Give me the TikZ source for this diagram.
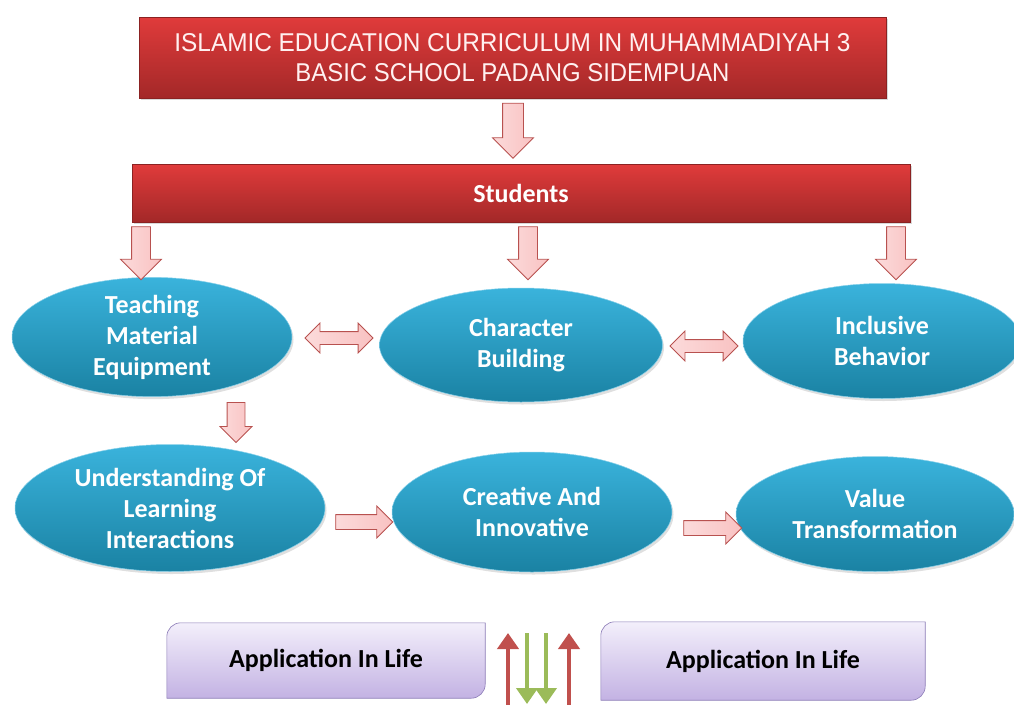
\documentclass[tikz,border=0pt]{standalone}
\usepackage{graphicx}
\usepackage{fontspec}
\setmainfont{Carlito}
\newfontfamily\titlefont{Liberation Sans}
\usetikzlibrary{shapes.geometric,shapes.arrows,shadows,calc,backgrounds,arrows.meta}
\definecolor{redtop}{HTML}{E03B3B}
\definecolor{redbot}{HTML}{A32828}
\definecolor{tealtop}{HTML}{3AB3DC}
\definecolor{tealbot}{HTML}{1A82A3}
\definecolor{arrfill}{HTML}{F9C2C2}
\definecolor{arrline}{HTML}{B8514F}
\definecolor{lavtop}{HTML}{F3EFFB}
\definecolor{lavbot}{HTML}{C3B2E3}
\definecolor{lavline}{HTML}{8A7AB6}
\definecolor{upred}{HTML}{C0504D}
\definecolor{downgreen}{HTML}{9BBB59}
\tikzset{
  redbox/.style={rectangle, draw=redbot!85!black, line width=0.4pt, top color=redtop, bottom color=redbot, inner sep=0pt,
    drop shadow={opacity=0.3, shadow xshift=2pt, shadow yshift=-2pt}},
  oval/.style={ellipse, top color=tealtop, bottom color=tealbot, draw=tealtop!60!white, line width=0.5pt, inner sep=0pt,
    text=white, font=\bfseries\fontsize{26}{31}\selectfont, align=center,
    drop shadow={opacity=0.25, shadow xshift=1.5pt, shadow yshift=-2.5pt}},
  blockarr/.style={draw=arrline, line width=0.8pt, left color=arrfill!60!white, right color=arrfill, inner xsep=0pt},
  sarr/.style={single arrow, blockarr, single arrow head indent=0pt},
  darr/.style={double arrow, blockarr, double arrow head indent=0pt},
  appbox/.style={draw=lavline, line width=0.6pt, top color=lavtop, bottom color=lavbot},
  apptext/.style={inner sep=0pt, font=\bfseries\fontsize{26}{30}\selectfont, text=black},
  thinarr/.style={line width=4.5pt, -{Triangle[width=21pt,length=16pt]}},
}
\begin{document}
\begin{tikzpicture}[x=1pt,y=-1pt]
\useasboundingbox (0,0) rectangle (1014,704);

% title and students bar
\node[redbox, minimum width=747pt, minimum height=81pt, text=white!94!red, align=center,
      font=\fontsize{10}{30}\selectfont] (title) at (512.5,57.5)
  {\resizebox{676pt}{18pt}{\titlefont ISLAMIC EDUCATION CURRICULUM IN MUHAMMADIYAH 3}\\
   \resizebox{434pt}{18pt}{\titlefont BASIC SCHOOL PADANG SIDEMPUAN}};
\node[redbox, minimum width=778pt, minimum height=58pt, text=white, font=\bfseries\fontsize{26}{30}\selectfont] (stud) at (521,193) {Students};

% ovals
\node[oval, minimum width=280pt, minimum height=115pt] (tme) at (152,337) {Teaching\\Material\\Equipment};
\node[oval, minimum width=283pt, minimum height=114pt] (cb) at (521,345) {Character\\Building};
\node[oval, minimum width=278pt, minimum height=115pt] (ib) at (882,341) {Inclusive\\Behavior};
\node[oval, minimum width=310pt, minimum height=127pt] (ul) at (170,508) {Understanding Of\\Learning\\Interactions};
\node[oval, minimum width=280pt, minimum height=120pt] (ci) at (532,512) {Creative And\\Innovative};
\node[oval, minimum width=278pt, minimum height=115pt] (vt) at (875,514) {Value\\Transformation};

% block arrows
\node[sarr, rotate=-90, minimum height=55pt, inner ysep=10pt, minimum width=40pt, single arrow head extend=10pt] (a0) at (513,125.5) {};
\node[sarr, rotate=-90, minimum height=53pt, inner ysep=9pt, minimum width=40pt, single arrow head extend=11pt] (a1) at (141,248.5) {};
\node[sarr, rotate=-90, minimum height=53pt, inner ysep=9pt, minimum width=40pt, single arrow head extend=11pt] (a2) at (528,248.5) {};
\node[sarr, rotate=-90, minimum height=53pt, inner ysep=9pt, minimum width=40pt, single arrow head extend=11pt] (a3) at (896,248.5) {};
\node[sarr, rotate=-90, minimum height=40pt, inner ysep=8.5pt, minimum width=31pt, single arrow head extend=7pt] (a4) at (236,418) {};
\node[sarr, minimum height=57pt, inner ysep=7pt, minimum width=31pt, single arrow head extend=8.5pt] (a5) at (360.5,522) {};
\node[sarr, minimum height=58pt, inner ysep=7pt, minimum width=31pt, single arrow head extend=8.5pt] (a6) at (709,528) {};
\node[darr, minimum height=68pt, inner ysep=6pt, minimum width=29pt, double arrow head extend=8.5pt] (d1) at (339,338) {};
\node[darr, minimum height=68pt, inner ysep=6pt, minimum width=29pt, double arrow head extend=8.5pt] (d2) at (704,346) {};

% application boxes
\node[apptext, minimum width=318pt, minimum height=75pt] (app1) at (326,660.5) {Application In Life};
\node[apptext, minimum width=324pt, minimum height=78pt] (app2) at (763,661) {Application In Life};
\begin{scope}[on background layer]
\path[appbox] (app1.south west) -- ($(app1.north west)+(0,14)$) arc[start angle=180,end angle=270,radius=14]
   -- (app1.north east) -- ($(app1.south east)+(0,-14)$) arc[start angle=0,end angle=90,radius=14] -- cycle;
\path[appbox] (app2.south west) -- ($(app2.north west)+(0,14)$) arc[start angle=180,end angle=270,radius=14]
   -- (app2.north east) -- ($(app2.south east)+(0,-14)$) arc[start angle=0,end angle=90,radius=14] -- cycle;
\end{scope}

% up/down arrows between application boxes
\coordinate (r1b) at (508,708); \coordinate (r1t) at (508,633);
\coordinate (g1t) at (527,633); \coordinate (g1b) at (527,704);
\coordinate (g2t) at (546,633); \coordinate (g2b) at (546,704);
\coordinate (r2b) at (569,708); \coordinate (r2t) at (569,633);
\draw[thinarr, upred] (r1b) -- (r1t);
\draw[thinarr, downgreen] (g1t) -- (g1b);
\draw[thinarr, downgreen] (g2t) -- (g2b);
\draw[thinarr, upred] (r2b) -- (r2t);
\end{tikzpicture}
\end{document}
